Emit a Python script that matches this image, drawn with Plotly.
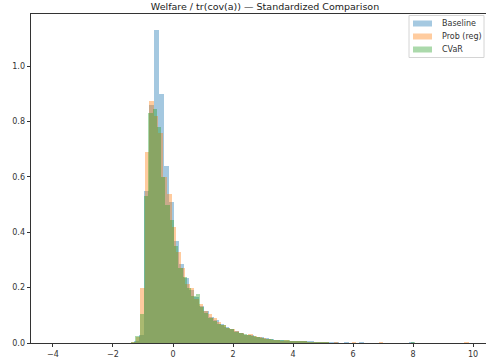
import plotly.graph_objects as go

# ---- data (histogram densities) ----
names = ["Baseline", "Prob (reg)", "CVaR"]

baseline_start = -1.31
baseline_width = 0.1667
baseline_density = [
    0.004, 0.03, 0.55, 0.86, 1.13, 0.90, 0.64, 0.51, 0.37, 0.285,
    0.235, 0.19, 0.165, 0.135, 0.115, 0.095, 0.082, 0.07, 0.058, 0.05,
    0.042, 0.036, 0.03, 0.028, 0.023, 0.02, 0.017, 0.014, 0.012, 0.01,
    0.008, 0.007, 0.006, 0.005, 0.004, 0.004, 0.003, 0.003, 0.002, 0.002,
    0.001, 0.0, 0.001, 0.0, 0.0, 0.003, 0.0, 0.0, 0.0, 0.0,
    0.0, 0.0, 0.0, 0.0, 0.0, 0.002, 0.0, 0.0, 0.0, 0.0,
]

prob_start = -1.393
prob_width = 0.15
prob_density = [
    0.003, 0.02, 0.2, 0.69, 0.876, 0.82, 0.76, 0.6, 0.54, 0.42,
    0.33, 0.27, 0.215, 0.2, 0.16, 0.14, 0.115, 0.105, 0.09, 0.075,
    0.065, 0.055, 0.05, 0.042, 0.035, 0.03, 0.033, 0.025, 0.02, 0.018,
    0.015, 0.012, 0.01, 0.009, 0.012, 0.007, 0.005, 0.005, 0.004, 0.003,
    0.003, 0.002, 0.002, 0.001, 0.0, 0.001, 0.0, 0.0, 0.0, 0.003,
    0.0, 0.0, 0.0, 0.0, 0.0, 0.003, 0.0, 0.0, 0.0, 0.0,
    0.0, 0.0, 0.0, 0.0, 0.0, 0.0, 0.0, 0.0, 0.0, 0.0,
    0.0, 0.0, 0.0, 0.0, 0.003,
]

cvar_start = -1.397
cvar_width = 0.1433
cvar_density = [
    0.003, 0.025, 0.105, 0.53, 0.83, 0.846, 0.78, 0.6, 0.5, 0.445,
    0.35, 0.27, 0.24, 0.2, 0.17, 0.177, 0.13, 0.11, 0.09, 0.08,
    0.07, 0.065, 0.055, 0.05, 0.04, 0.035, 0.033, 0.028, 0.024, 0.02,
    0.018, 0.016, 0.013, 0.012, 0.01, 0.012, 0.01, 0.008, 0.006, 0.005,
    0.004, 0.003, 0.003, 0.002, 0.002, 0.001, 0.0, 0.0, 0.0, 0.0,
    0.0, 0.0, 0.0, 0.0, 0.0, 0.0, 0.0, 0.0, 0.0, 0.0,
    0.0, 0.0, 0.0, 0.0, 0.0, 0.002,
]

colors = ["#1f77b4", "#ff7f0e", "#2ca02c"]
x_ticks = [-4, -2, 0, 2, 4, 6, 8, 10]
y_ticks = [0.0, 0.2, 0.4, 0.6, 0.8, 1.0]

series = [
    (baseline_start, baseline_width, baseline_density),
    (prob_start, prob_width, prob_density),
    (cvar_start, cvar_width, cvar_density),
]

W, H = 486, 364
L, R, T, B = 31, 0, 14, 21
PW, PH = W - L - R, H - T - B


def px_x(px):
    return (px - L) / PW


def px_y(py):
    return (H - B - py) / PH


fig = go.Figure()
for name, color, (start, width, dens) in zip(names, colors, series):
    centers = [start + width * (i + 0.5) for i in range(len(dens))]
    fig.add_trace(go.Bar(
        x=centers, y=dens, width=width, name=name,
        marker=dict(color=color, line=dict(width=0)),
        opacity=0.4, showlegend=False,
    ))

# matplotlib-style legend box built from shapes + text
shapes = [dict(
    type="rect", xref="paper", yref="paper",
    x0=px_x(409), x1=px_x(484), y0=px_y(57.5), y1=px_y(15.5),
    line=dict(color="#d4d4d4", width=1), fillcolor="rgba(255,255,255,0.8)",
    layer="above",
)]
annotations = []
for i, (name, color) in enumerate(zip(names, colors)):
    cy = 23.5 + 13 * i
    shapes.append(dict(
        type="rect", xref="paper", yref="paper",
        x0=px_x(413), x1=px_x(432), y0=px_y(cy + 3), y1=px_y(cy - 3),
        line=dict(width=0), fillcolor=color, opacity=0.4, layer="above",
    ))
    annotations.append(dict(
        xref="paper", yref="paper", x=px_x(440), y=px_y(cy),
        xanchor="left", yanchor="middle", showarrow=False, text=name,
        font=dict(family="DejaVu Sans", size=8, color="#333"),
    ))

fig.update_layout(
    width=W, height=H,
    margin=dict(l=L, r=R, t=T, b=B),
    barmode="overlay",
    bargap=0,
    plot_bgcolor="white",
    paper_bgcolor="white",
    font=dict(family="DejaVu Sans", size=8, color="#333"),
    title=dict(
        text="Welfare / tr(cov(a)) — Standardized Comparison",
        x=265 / W, xref="container", xanchor="center",
        y=1 - 7 / H, yref="container", yanchor="middle",
        font=dict(family="DejaVu Sans", size=9.5, color="#222"),
    ),
    shapes=shapes,
    annotations=annotations,
    showlegend=False,
)
fig.update_xaxes(
    range=[-4.733, 10.433],
    tickvals=x_ticks, ticktext=["\u2212" + str(-t) if t < 0 else str(t) for t in x_ticks],
    ticks="outside", ticklen=3.5, tickcolor="#333", tickwidth=0.8,
    showline=True, linecolor="#333", linewidth=0.8, mirror=True,
    showgrid=False, zeroline=False,
)
fig.update_yaxes(
    range=[0, 1.189],
    tickvals=y_ticks, ticktext=[f"{t:.1f}" for t in y_ticks],
    ticks="outside", ticklen=3.5, tickcolor="#333", tickwidth=0.8,
    showline=True, linecolor="#333", linewidth=0.8, mirror=False,
    showgrid=False, zeroline=False,
)

fig.write_html("out.html")
